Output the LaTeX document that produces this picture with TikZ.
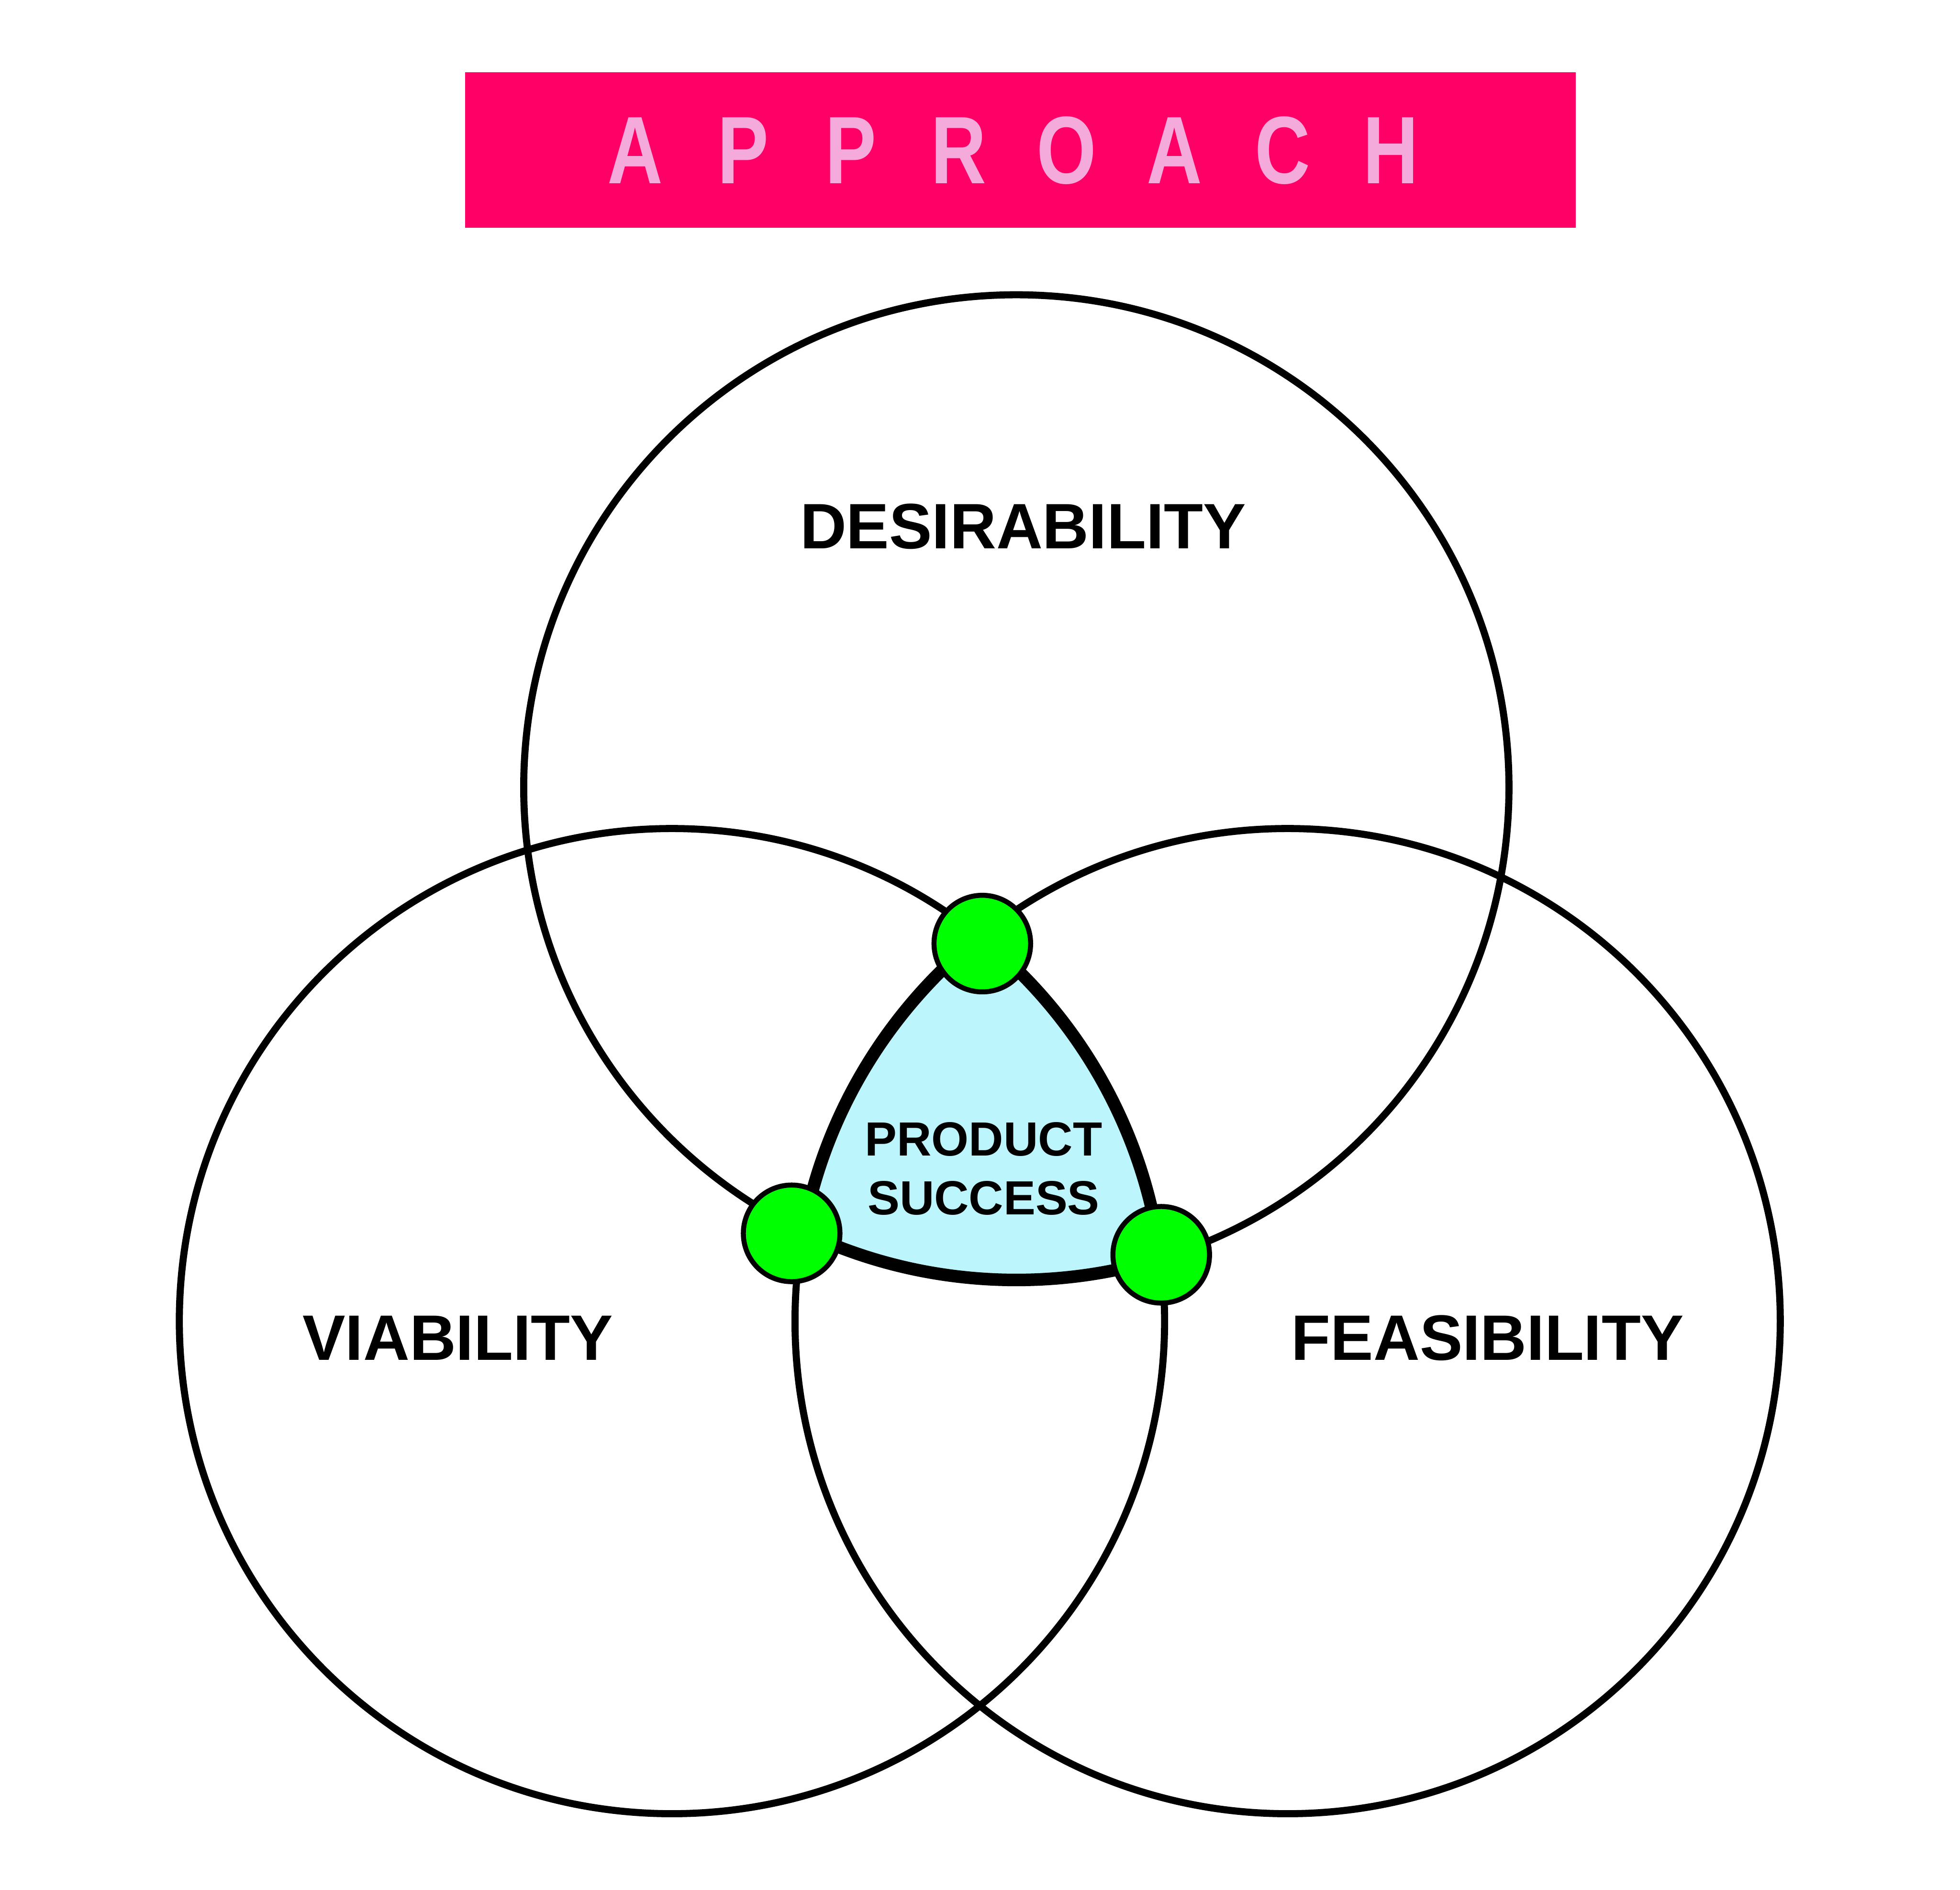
\documentclass[tikz,border=0pt]{standalone}
\usepackage{fontspec}
\setmainfont{Liberation Sans}
\definecolor{bannerpink}{RGB}{255, 0, 102}
\definecolor{letterpink}{RGB}{244, 170, 218}
\definecolor{successblue}{RGB}{189, 245, 252}
\definecolor{dotgreen}{RGB}{0, 255, 0}
\usepackage{tikz}
\usetikzlibrary{positioning, shapes}

\begin{document}
\begin{tikzpicture}[
	ring/.style={circle,draw,line width=4.8pt,minimum size=23.46cm,inner sep=0pt},
	dot/.style={circle,draw,fill=dotgreen,line width=3.4pt,minimum size=2.3cm,inner sep=0pt},
	area/.style={font=\fontsize{43.5}{50}\selectfont\bfseries}]
	\useasboundingbox (0,0) rectangle (46.67,45);
	\node (banner) at (24.295,41.43) [fill=bannerpink,minimum width=26.45cm,minimum height=3.7cm,inner sep=0pt] {};
	\foreach \l [count=\i from 0] in {A,P,P,R,O,A,C,H}
		\node (letter\i) at (15.12+2.57*\i,41.42) [text=letterpink,font=\fontsize{65}{65}\selectfont\bfseries] {\scalebox{0.8}[1]{\l}};
	\node (des) at (24.20,26.25) [ring] {};
	\node (via) at (16.00,13.54) [ring] {};
	\node (fea) at (30.66,13.54) [ring] {};
	\begin{scope}
		\clip (des.center) circle (11.73);
		\clip (via.center) circle (11.73);
		\fill[successblue] (fea.center) circle (11.73);
	\end{scope}
	\foreach \a/\b/\c in {des/via/fea, via/fea/des, fea/des/via} {
		\begin{scope}
			\clip (\b.center) circle (11.73);
			\clip (\c.center) circle (11.73);
			\draw[line width=8.5pt] (\a.center) circle (11.73);
		\end{scope}
	}
	\node (dtop) at (23.39,22.53) [dot] {};
	\node (dleft) at (18.85,15.63) [dot] {};
	\node (dright) at (27.65,15.12) [dot] {};
	\node (deslabel) at (24.36,32.46) [area] {DESIRABILITY};
	\node (vialabel) at (10.90,13.14) [area] {VIABILITY};
	\node (fealabel) at (35.42,13.14) [area] {FEASIBILITY};
	\node (success) at (23.42,17.17) [align=center,font=\fontsize{32.5}{40}\selectfont\bfseries] {PRODUCT\\SUCCESS};
\end{tikzpicture}
\end{document}
